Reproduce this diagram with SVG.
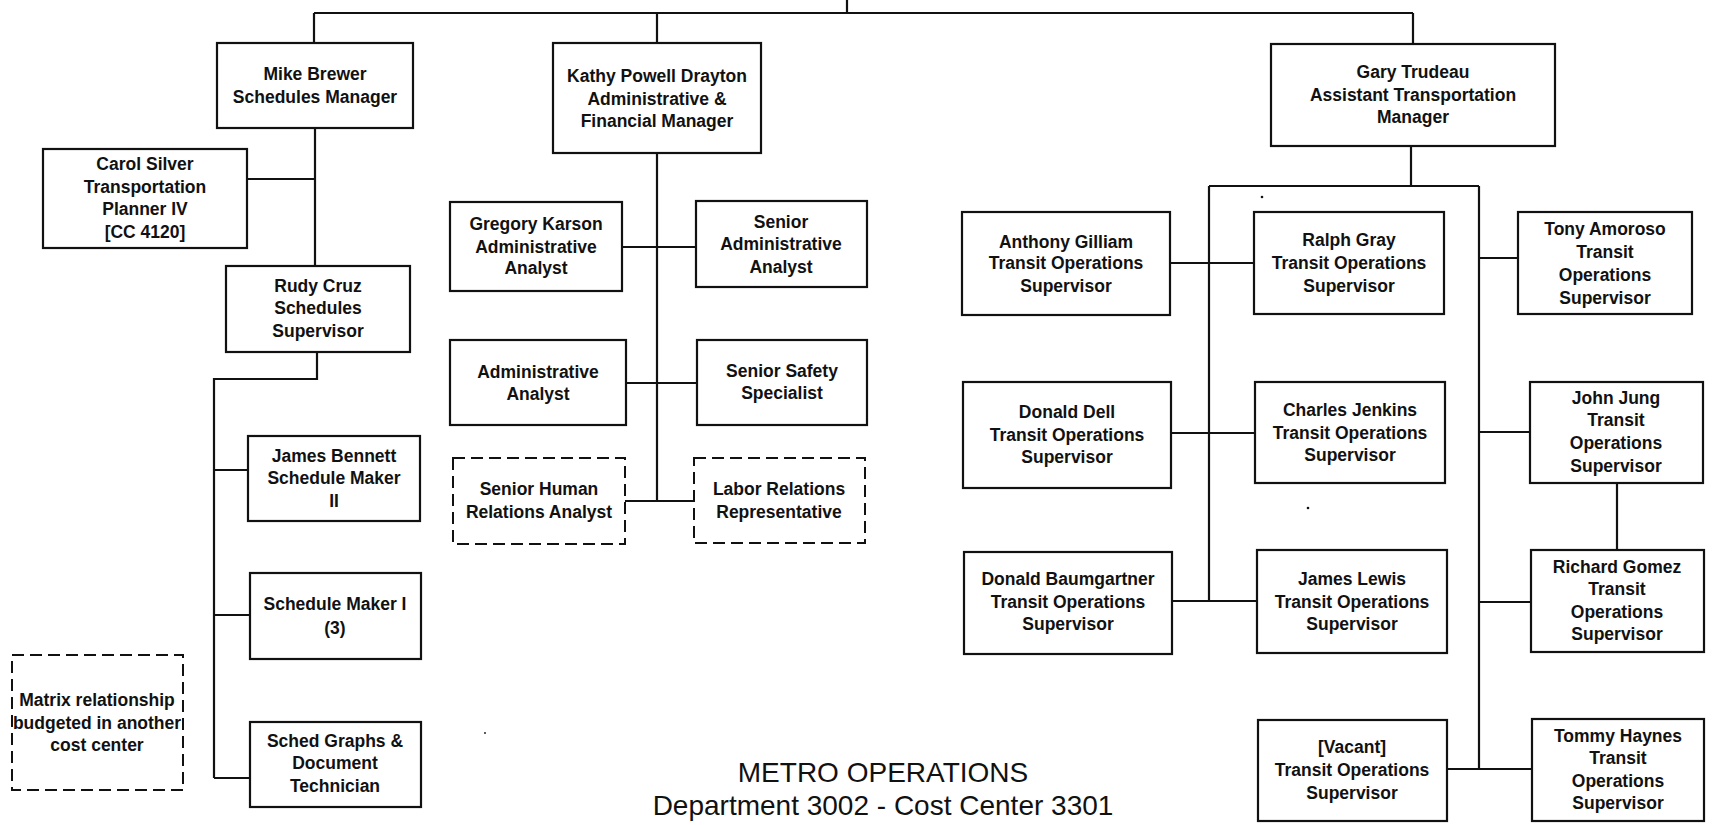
<svg xmlns="http://www.w3.org/2000/svg" width="1712" height="825" viewBox="0 0 1712 825">
<style>
.b{fill:#fff;stroke:#111;stroke-width:2.2}
.d{fill:#fff;stroke:#111;stroke-width:2;stroke-dasharray:12 6}
.t{font-family:"Liberation Sans",Arial,sans-serif;font-weight:bold;font-size:17.5px;fill:#111;text-anchor:middle}
.c{stroke:#111;stroke-width:2.2;fill:none}
.title{font-family:"Liberation Sans",Arial,sans-serif;font-size:28px;fill:#111;text-anchor:middle}
</style>
<rect width="1712" height="825" fill="#fff"/>
<g id="connectors" class="c">
<path d="M847 0V13M314 13H1413M314 13V43M657 13V43M1413 13V44"/>
<path d="M315 128V266M247 179H315"/>
<path d="M317 352V379H214V778M214 470H248M214 615H250M214 778H250"/>
<path d="M657 153V501M622 247H696M626 383H696M625 501H694"/>
<path d="M1411 146V186M1209 186H1479M1209 186V601M1479 186V769"/>
<path d="M1170 263H1254M1171 433H1255M1172 601H1257"/>
<path d="M1479 258H1518M1479 432H1530M1479 602H1531M1447 769H1532M1617 483V550"/>
</g>
<g id="mike"><rect class="b" x="217" y="43" width="196" height="85"/><text class="t" x="315" y="80">Mike Brewer</text><text class="t" x="315" y="103">Schedules Manager</text></g>
<g id="kathy"><rect class="b" x="553" y="43" width="208" height="110"/><text class="t" x="657" y="82">Kathy Powell Drayton</text><text class="t" x="657" y="105">Administrative &amp;</text><text class="t" x="657" y="127">Financial Manager</text></g>
<g id="gary"><rect class="b" x="1271" y="44" width="284" height="102"/><text class="t" x="1413" y="78">Gary Trudeau</text><text class="t" x="1413" y="101">Assistant Transportation</text><text class="t" x="1413" y="123">Manager</text></g>
<g id="carol"><rect class="b" x="43" y="149" width="204" height="99"/><text class="t" x="145" y="170">Carol Silver</text><text class="t" x="145" y="193">Transportation</text><text class="t" x="145" y="215">Planner IV</text><text class="t" x="145" y="238">[CC 4120]</text></g>
<g id="rudy"><rect class="b" x="226" y="266" width="184" height="86"/><text class="t" x="318" y="292">Rudy Cruz</text><text class="t" x="318" y="314">Schedules</text><text class="t" x="318" y="337">Supervisor</text></g>
<g id="bennett"><rect class="b" x="248" y="436" width="172" height="85"/><text class="t" x="334" y="462">James Bennett</text><text class="t" x="334" y="484">Schedule Maker</text><text class="t" x="334" y="507">II</text></g>
<g id="maker1"><rect class="b" x="250" y="573" width="171" height="86"/><text class="t" x="335" y="610">Schedule Maker I</text><text class="t" x="335" y="634">(3)</text></g>
<g id="graphs"><rect class="b" x="250" y="722" width="171" height="85"/><text class="t" x="335" y="747">Sched Graphs &amp;</text><text class="t" x="335" y="769">Document</text><text class="t" x="335" y="792">Technician</text></g>
<g id="matrix"><rect class="d" x="12" y="655" width="171" height="135"/><text class="t" x="97" y="706">Matrix relationship</text><text class="t" x="97" y="729">budgeted in another</text><text class="t" x="97" y="751">cost center</text></g>
<g id="gregory"><rect class="b" x="450" y="202" width="172" height="89"/><text class="t" x="536" y="230">Gregory Karson</text><text class="t" x="536" y="253">Administrative</text><text class="t" x="536" y="274">Analyst</text></g>
<g id="senioradmin"><rect class="b" x="696" y="201" width="171" height="86"/><text class="t" x="781" y="228">Senior</text><text class="t" x="781" y="250">Administrative</text><text class="t" x="781" y="273">Analyst</text></g>
<g id="adminanalyst"><rect class="b" x="450" y="340" width="176" height="85"/><text class="t" x="538" y="378">Administrative</text><text class="t" x="538" y="400">Analyst</text></g>
<g id="safety"><rect class="b" x="697" y="340" width="170" height="85"/><text class="t" x="782" y="377">Senior Safety</text><text class="t" x="782" y="399">Specialist</text></g>
<g id="humanrel"><rect class="d" x="453" y="458" width="172" height="86"/><text class="t" x="539" y="495">Senior Human</text><text class="t" x="539" y="518">Relations Analyst</text></g>
<g id="labor"><rect class="d" x="694" y="458" width="171" height="85"/><text class="t" x="779" y="495">Labor Relations</text><text class="t" x="779" y="518">Representative</text></g>
<g id="anthony"><rect class="b" x="962" y="212" width="208" height="103"/><text class="t" x="1066" y="248">Anthony Gilliam</text><text class="t" x="1066" y="269">Transit Operations</text><text class="t" x="1066" y="292">Supervisor</text></g>
<g id="ralph"><rect class="b" x="1254" y="212" width="190" height="102"/><text class="t" x="1349" y="246">Ralph Gray</text><text class="t" x="1349" y="269">Transit Operations</text><text class="t" x="1349" y="292">Supervisor</text></g>
<g id="tony"><rect class="b" x="1518" y="212" width="174" height="102"/><text class="t" x="1605" y="235">Tony Amoroso</text><text class="t" x="1605" y="258">Transit</text><text class="t" x="1605" y="281">Operations</text><text class="t" x="1605" y="304">Supervisor</text></g>
<g id="dell"><rect class="b" x="963" y="382" width="208" height="106"/><text class="t" x="1067" y="418">Donald Dell</text><text class="t" x="1067" y="441">Transit Operations</text><text class="t" x="1067" y="463">Supervisor</text></g>
<g id="jenkins"><rect class="b" x="1255" y="382" width="190" height="101"/><text class="t" x="1350" y="416">Charles Jenkins</text><text class="t" x="1350" y="439">Transit Operations</text><text class="t" x="1350" y="461">Supervisor</text></g>
<g id="jung"><rect class="b" x="1530" y="382" width="173" height="101"/><text class="t" x="1616" y="404">John Jung</text><text class="t" x="1616" y="426">Transit</text><text class="t" x="1616" y="449">Operations</text><text class="t" x="1616" y="472">Supervisor</text></g>
<g id="baumgartner"><rect class="b" x="964" y="552" width="208" height="102"/><text class="t" x="1068" y="585">Donald Baumgartner</text><text class="t" x="1068" y="608">Transit Operations</text><text class="t" x="1068" y="630">Supervisor</text></g>
<g id="lewis"><rect class="b" x="1257" y="550" width="190" height="103"/><text class="t" x="1352" y="585">James Lewis</text><text class="t" x="1352" y="608">Transit Operations</text><text class="t" x="1352" y="630">Supervisor</text></g>
<g id="gomez"><rect class="b" x="1531" y="550" width="173" height="102"/><text class="t" x="1617" y="573">Richard Gomez</text><text class="t" x="1617" y="595">Transit</text><text class="t" x="1617" y="618">Operations</text><text class="t" x="1617" y="640">Supervisor</text></g>
<g id="vacant"><rect class="b" x="1258" y="720" width="189" height="101"/><text class="t" x="1352" y="753">[Vacant]</text><text class="t" x="1352" y="776">Transit Operations</text><text class="t" x="1352" y="799">Supervisor</text></g>
<g id="haynes"><rect class="b" x="1532" y="719" width="172" height="102"/><text class="t" x="1618" y="742">Tommy Haynes</text><text class="t" x="1618" y="764">Transit</text><text class="t" x="1618" y="787">Operations</text><text class="t" x="1618" y="809">Supervisor</text></g>
<g id="title"><text class="title" x="883" y="782">METRO OPERATIONS</text><text class="title" x="883" y="815">Department 3002 - Cost Center 3301</text></g>
<g id="specks" fill="#111"><circle cx="1262" cy="197" r="1.3"/><circle cx="1308" cy="508" r="1.3"/><circle cx="485" cy="733" r="0.9"/></g>
</svg>
